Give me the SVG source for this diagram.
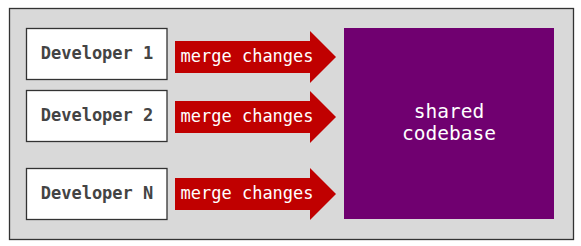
<svg xmlns="http://www.w3.org/2000/svg" width="581" height="246" viewBox="0 0 581 246">
<style>
.dev rect{fill:#fff;stroke:#333;stroke-width:1.3}
.dev text{font-family:"DejaVu Sans Mono",monospace;font-weight:bold;font-size:17px;fill:#444;text-anchor:middle}
.arr path{fill:#c00000}
.arr text{font-family:"DejaVu Sans Mono",monospace;font-size:17px;fill:#fff}
.big text{font-family:"DejaVu Sans Mono",monospace;font-size:19.5px;fill:#fff;text-anchor:middle}
</style>
<rect x="9.5" y="8.5" width="564" height="231" fill="#d9d9d9" stroke="#333" stroke-width="1.3"/>
<g id="dev1" class="dev"><rect x="26.5" y="28.5" width="140.5" height="51"/><text x="97" y="59">Developer 1</text></g>
<g id="dev2" class="dev"><rect x="26.5" y="90.5" width="140.5" height="51"/><text x="97" y="121">Developer 2</text></g>
<g id="devN" class="dev"><rect x="26.5" y="168.5" width="140.5" height="51"/><text x="97" y="199">Developer N</text></g>
<g id="shared" class="big"><rect x="344" y="28" width="210" height="191" fill="#700070"/><text x="449" y="117.5">shared</text><text x="449" y="140">codebase</text></g>
<g id="connectors" class="arr">
<g id="arrow1"><path d="M175 41H310V31L336 57L310 83V73H175Z"/><text x="180.5" y="62">merge changes</text></g>
<g id="arrow2"><path d="M175 101H310V91L336 117L310 143V133H175Z"/><text x="180.5" y="122">merge changes</text></g>
<g id="arrow3"><path d="M175 178H310V168L336 194L310 220V210H175Z"/><text x="180.5" y="199">merge changes</text></g>
</g>
</svg>
